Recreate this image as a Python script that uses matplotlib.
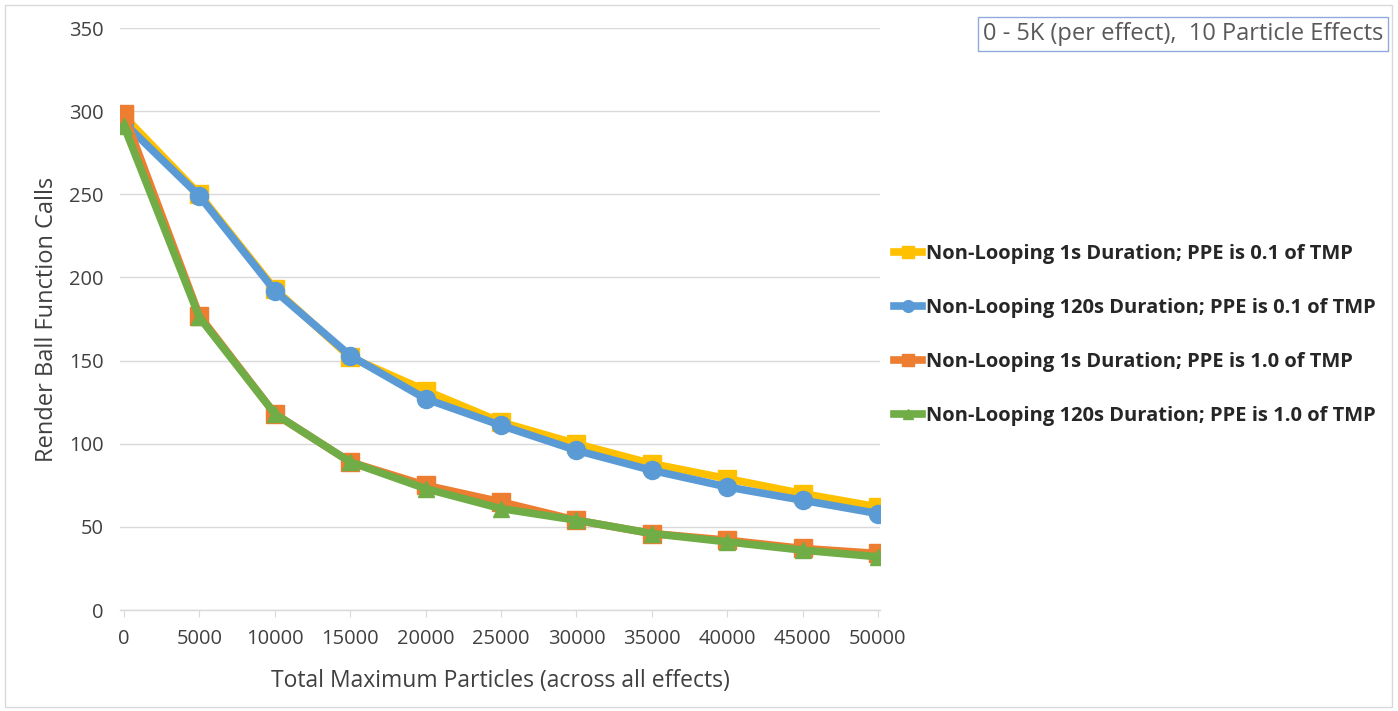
import matplotlib
matplotlib.use("Agg")
import matplotlib.pyplot as plt
from matplotlib.patches import Rectangle

plt.rcParams['font.family'] = ['Open Sans', 'DejaVu Sans']

x_values = [0, 5000, 10000, 15000, 20000, 25000, 30000, 35000, 40000, 45000, 50000]
x_ticklabels = [str(v) for v in x_values]
y_ticks = [0, 50, 100, 150, 200, 250, 300, 350]

nl1s_01 = [297, 250, 193, 152, 132, 113, 100, 88, 79, 70, 62]
nl120s_01 = [293, 249, 192, 153, 127, 111, 96, 84, 74, 66, 58]
nl1s_10 = [298, 177, 118, 89, 75, 65, 54, 46, 42, 37, 34]
nl120s_10 = [291, 176, 118, 89, 73, 61, 54, 46, 41, 36, 32]

labels = [
    "Non-Looping 1s Duration; PPE is 0.1 of TMP",
    "Non-Looping 120s Duration; PPE is 0.1 of TMP",
    "Non-Looping 1s Duration; PPE is 1.0 of TMP",
    "Non-Looping 120s Duration; PPE is 1.0 of TMP",
]
series = [nl1s_01, nl120s_01, nl1s_10, nl120s_10]
colors = ["#FFC000", "#5B9BD5", "#ED7D31", "#70AD47"]
markers = ["s", "o", "s", "^"]
msizes = [13, 13, 13, 12]

W, H = 1398, 711
fig = plt.figure(figsize=(W / 100, H / 100), dpi=100)
ax = fig.add_axes([120 / W, 1 - 610 / H, (880 - 120) / W, (610 - 28) / H])

lines = []
for vals, c, m, ms, lab in zip(series, colors, markers, msizes, labels):
    ln, = ax.plot(x_values, vals, color=c, lw=5.5, marker=m, ms=ms,
                  markeredgecolor=c, label=lab, solid_joinstyle='round')
    lines.append(ln)

ax.set_xlim(-265, 50133)
ax.set_ylim(0, 350)
ax.set_yticks(y_ticks)
ax.set_xticks(x_values)
ax.set_xticklabels(x_ticklabels)
ax.grid(axis='y', color='#D9D9D9', lw=1)
ax.set_axisbelow(True)
for s in ['top', 'right', 'left']:
    ax.spines[s].set_visible(False)
ax.spines['bottom'].set_color('#D9D9D9')
ax.spines['bottom'].set_linewidth(1)
ax.tick_params(axis='y', length=0, labelsize=14.5, labelcolor='#404040', pad=12)
ax.tick_params(axis='x', length=5, color='#D9D9D9', labelsize=14.5, labelcolor='#404040', pad=9)

ax.set_ylabel("Render Ball Function Calls", fontsize=17, color='#404040', labelpad=7)
ax.set_xlabel("Total Maximum Particles (across all effects)", fontsize=16.5, color='#404040', labelpad=14)

leg = fig.legend(handles=lines, labels=labels, loc='upper left',
                 bbox_to_anchor=(876 / W, 1 - 226 / H), frameon=False,
                 prop={'weight': 'bold', 'size': 14.5}, handlelength=1.4,
                 handletextpad=0.2, labelspacing=1.68, markerscale=0.65)
for t in leg.get_texts():
    t.set_color('#262626')

fig.text(983 / W, 1 - 34 / H, "0 - 5K (per effect),  10 Particle Effects",
         fontsize=17, color='#595959', va='center', ha='left',
         bbox=dict(boxstyle='square,pad=0.2', fc='white', ec='#8FAADC', lw=1))

fig.add_artist(Rectangle((5 / W, 4 / H), (1392 - 5) / W, (706 - 4) / H,
                         transform=fig.transFigure, fill=False,
                         ec='#D9D9D9', lw=1))

fig.savefig("out.png", dpi=100)
